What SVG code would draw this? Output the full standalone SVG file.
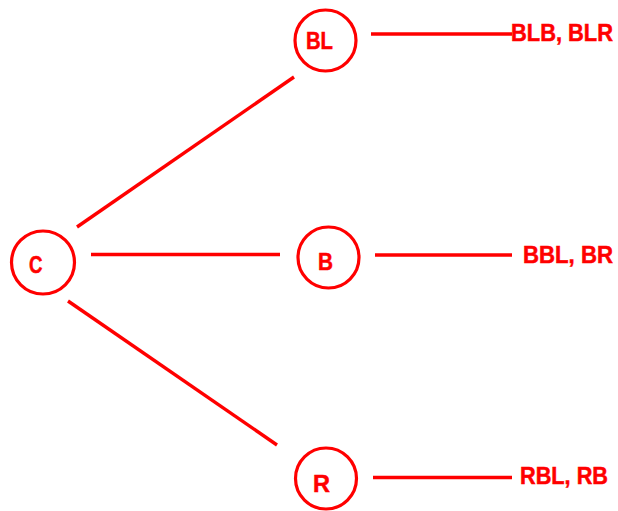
<svg xmlns="http://www.w3.org/2000/svg" width="618" height="511" viewBox="0 0 618 511">
<style>
.n{fill:none;stroke:#ff0000;stroke-width:3.2}
.e{stroke:#ff0000;stroke-width:3.4;fill:none}
.t{font-family:"Liberation Sans",Arial,sans-serif;font-weight:bold;font-size:23px;fill:#ff0000;stroke:#ff0000;stroke-width:0.5}
</style>
<rect width="618" height="511" fill="#ffffff"/>
<g id="connectors">
<line class="e" x1="77" y1="227" x2="294" y2="77"/>
<line class="e" x1="91" y1="254.5" x2="280" y2="254.5"/>
<line class="e" x1="68" y1="301" x2="277" y2="445"/>
<line class="e" x1="371" y1="34" x2="512" y2="34"/>
<line class="e" x1="375" y1="255" x2="512" y2="255"/>
<line class="e" x1="373" y1="477.5" x2="512" y2="477.5"/>
</g>
<g id="node-C">
<circle class="n" cx="43" cy="262.5" r="31.5"/>
<text class="t" x="29" y="272.5" textLength="13.5" lengthAdjust="spacingAndGlyphs">C</text>
</g>
<g id="node-BL">
<circle class="n" cx="325.5" cy="40.5" r="30.5"/>
<text class="t" x="306" y="49" textLength="27" lengthAdjust="spacingAndGlyphs">BL</text>
</g>
<g id="node-B">
<circle class="n" cx="328.5" cy="257.5" r="30.5"/>
<text class="t" x="318" y="270" textLength="15" lengthAdjust="spacingAndGlyphs">B</text>
</g>
<g id="node-R">
<circle class="n" cx="326" cy="478.5" r="30.5"/>
<text class="t" x="313" y="491.5" textLength="17" lengthAdjust="spacingAndGlyphs">R</text>
</g>
<g id="leaf-BL">
<text class="t" x="511" y="41" textLength="102" lengthAdjust="spacingAndGlyphs">BLB, BLR</text>
</g>
<g id="leaf-B">
<text class="t" x="523" y="263" textLength="90" lengthAdjust="spacingAndGlyphs">BBL, BR</text>
</g>
<g id="leaf-R">
<text class="t" x="520" y="484" textLength="88" lengthAdjust="spacingAndGlyphs">RBL, RB</text>
</g>
</svg>
